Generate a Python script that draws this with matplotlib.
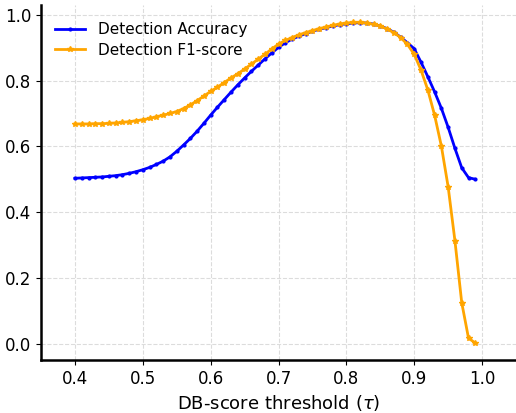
import numpy as np
import matplotlib
matplotlib.use("Agg")
import matplotlib.pyplot as plt

thresholds = [round(0.40 + 0.01 * i, 2) for i in range(60)]

accuracy = [
    0.503, 0.504, 0.505, 0.506, 0.507, 0.509, 0.511, 0.514, 0.518, 0.523,
    0.529, 0.536, 0.545, 0.555, 0.568, 0.585, 0.604, 0.624, 0.646, 0.670,
    0.695, 0.719, 0.742, 0.765, 0.787, 0.808, 0.828, 0.847, 0.866, 0.884,
    0.901, 0.915, 0.926, 0.935, 0.943, 0.950, 0.956, 0.961, 0.966, 0.970,
    0.973, 0.975, 0.976, 0.975, 0.972, 0.966, 0.958, 0.947, 0.932, 0.915,
    0.897, 0.856, 0.812, 0.766, 0.716, 0.658, 0.594, 0.535, 0.505, 0.500,
]

f1_score = [
    0.668, 0.668, 0.668, 0.669, 0.669, 0.670, 0.671, 0.673, 0.675, 0.678,
    0.681, 0.685, 0.690, 0.695, 0.700, 0.706, 0.715, 0.726, 0.739, 0.753,
    0.767, 0.780, 0.794, 0.808, 0.821, 0.835, 0.850, 0.865, 0.880, 0.896,
    0.911, 0.922, 0.931, 0.939, 0.946, 0.952, 0.958, 0.963, 0.968, 0.972,
    0.975, 0.977, 0.977, 0.975, 0.971, 0.966, 0.957, 0.946, 0.931, 0.910,
    0.880, 0.832, 0.772, 0.695, 0.601, 0.477, 0.313, 0.125, 0.017, 0.002,
]

xticks = [0.4, 0.5, 0.6, 0.7, 0.8, 0.9, 1.0]
yticks = [0.0, 0.2, 0.4, 0.6, 0.8, 1.0]

fig = plt.figure(figsize=(5.16, 4.13), dpi=100)
ax = fig.add_axes([0.0795, 0.128, 0.9205, 0.86])

ax.plot(thresholds, accuracy, color="blue", marker=".", markersize=4,
        linewidth=2, label="Detection Accuracy")
ax.plot(thresholds, f1_score, color="orange", marker="*", markersize=4,
        linewidth=2, label="Detection F1-score")

ax.set_xlim(0.35, 1.05)
ax.set_ylim(-0.05, 1.03)
ax.set_xticks(xticks)
ax.set_yticks(yticks)
ax.set_xticklabels([f"{t:.1f}" for t in xticks], fontsize=12)
ax.set_yticklabels([f"{t:.1f}" for t in yticks], fontsize=12)
ax.set_xlabel(r"DB-score threshold ($\tau$)", fontsize=13)

ax.grid(True, linestyle="--", color="#dcdcdc", linewidth=0.8)
ax.set_axisbelow(True)
for s in ["top", "right"]:
    ax.spines[s].set_visible(False)
for s in ["left", "bottom"]:
    ax.spines[s].set_linewidth(1.8)
    ax.spines[s].set_color("black")

ax.legend(loc="upper left", frameon=False, fontsize=11,
          bbox_to_anchor=(0.0, 0.99), borderaxespad=0.5, labelspacing=0.35)

fig.savefig("out.png", dpi=100)
